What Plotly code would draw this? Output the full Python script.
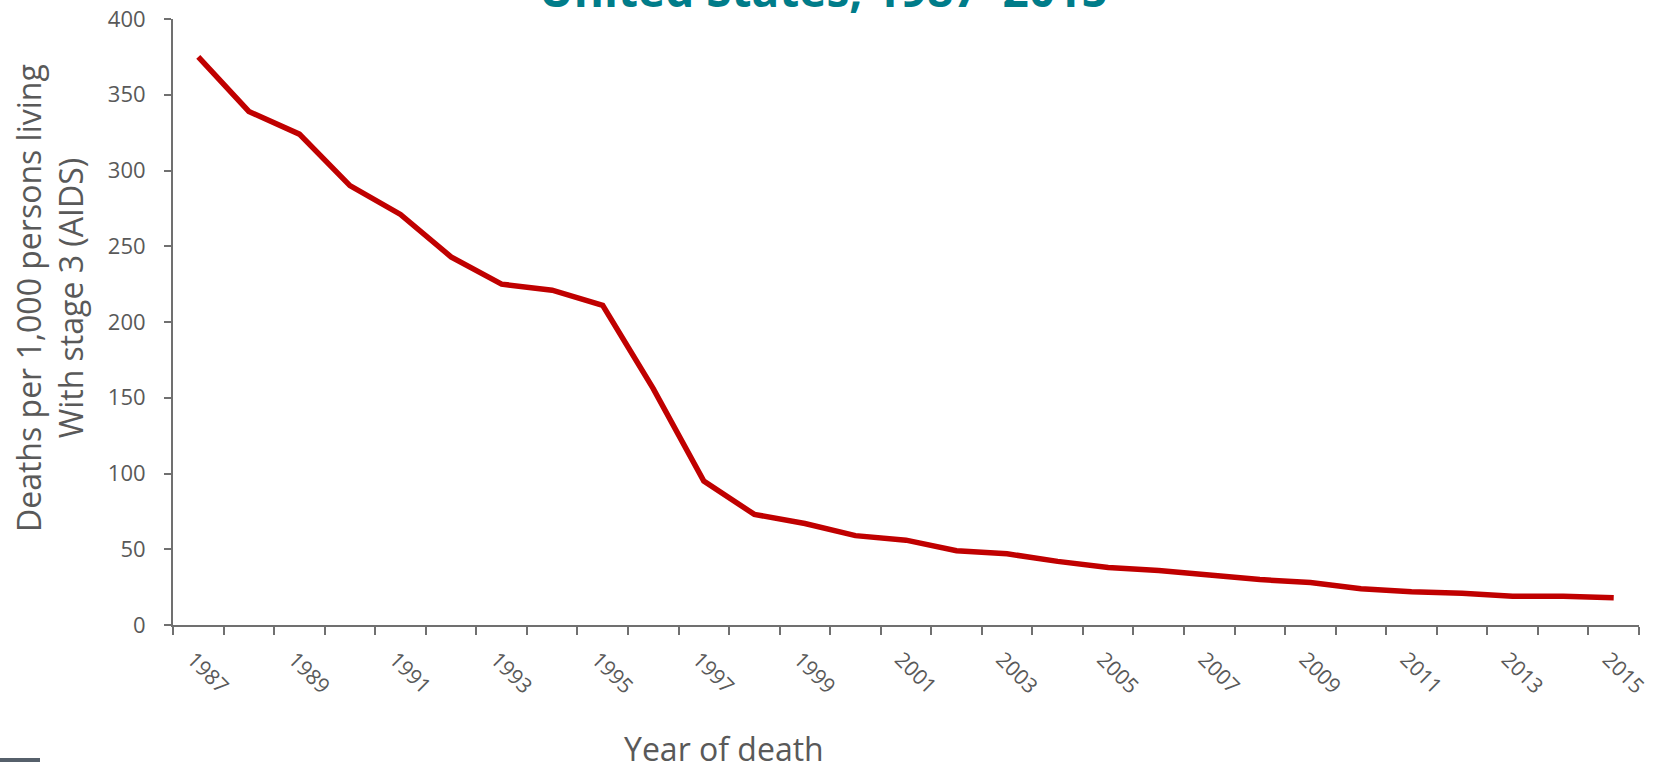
import plotly.graph_objects as go

years = list(range(1987, 2016))
death_rates = [375, 339, 324, 290, 271, 243, 225, 221, 211, 156, 95, 73, 67, 59, 56,
               49, 47, 42, 38, 36, 33, 30, 28, 24, 22, 21, 19, 19, 18]
y_ticks = [0, 50, 100, 150, 200, 250, 300, 350, 400]
title_text = "United States, 1987–2015"
y_title = "Deaths per 1,000 persons living<br>With stage 3 (AIDS)"
x_title = "Year of death"

label_years = years[::2]
boundaries = [y - 0.5 for y in years] + [years[-1] + 0.5]

W, H = 1655, 762
L, R, T, B = 173, 16, 19, 137
PW, PH = W - L - R, H - T - B

AX = "#707070"
TXT = "#595959"
FONT = "Open Sans"


def px(xp):
    return (xp - L) / PW


def py(yp):
    return (H - B - yp) / PH


fig = go.Figure()
fig.add_trace(go.Scatter(x=years, y=death_rates, mode="lines",
                         line=dict(color="#C00000", width=5.5), hoverinfo="skip"))

fig.update_layout(
    width=W, height=H,
    margin=dict(l=L, r=R, t=T, b=B, autoexpand=False),
    paper_bgcolor="white", plot_bgcolor="white",
    showlegend=False,
    font=dict(family=FONT, color=TXT),
)
fig.update_xaxes(
    range=[years[0] - 0.5, years[-1] + 0.5], automargin=False,
    tickmode="array", tickvals=label_years, ticktext=[str(y) for y in label_years],
    tickangle=45, ticks="", ticklabelstandoff=12, ticklabeloverflow="allow",
    ticklabelshift=-5,
    tickfont=dict(size=21, color=TXT, family=FONT),
    showline=True, linecolor=AX, linewidth=2,
    showgrid=False, zeroline=False,
    minor=dict(tickmode="array", tickvals=boundaries, ticks="outside", ticklen=8,
               tickcolor=AX, tickwidth=2, showgrid=False),
)
fig.update_yaxes(
    range=[0, 400], tickmode="array", tickvals=y_ticks, automargin=False,
    ticks="outside", ticklen=7, tickcolor=AX, tickwidth=2,
    ticklabelstandoff=14, ticklabeloverflow="allow",
    tickfont=dict(size=22, color=TXT, family=FONT),
    showline=True, linecolor=AX, linewidth=2,
    showgrid=False, zeroline=False,
)

fig.add_annotation(text=title_text, xref="paper", yref="paper",
                   x=px(823), y=py(22), xanchor="center", yanchor="bottom",
                   showarrow=False,
                   font=dict(family=FONT, size=46, color="#007C89", weight="bold"))
fig.add_annotation(text=y_title, xref="paper", yref="paper",
                   x=px(49), y=py(298), xanchor="center", yanchor="middle",
                   textangle=-90, showarrow=False,
                   font=dict(family=FONT, size=32, color=TXT))
fig.add_annotation(text=x_title, xref="paper", yref="paper",
                   x=px(724), y=py(748), xanchor="center", yanchor="middle",
                   showarrow=False,
                   font=dict(family=FONT, size=32, color=TXT))

fig.add_shape(type="rect", xref="paper", yref="paper",
              x0=px(0), x1=px(40), y0=py(762), y1=py(758),
              fillcolor="#56606b", line=dict(width=0))

fig.write_html("out.html",
               config={"displayModeBar": False},
               post_script="document.body.style.margin='0';"
                           "document.body.style.overflow='hidden';")
